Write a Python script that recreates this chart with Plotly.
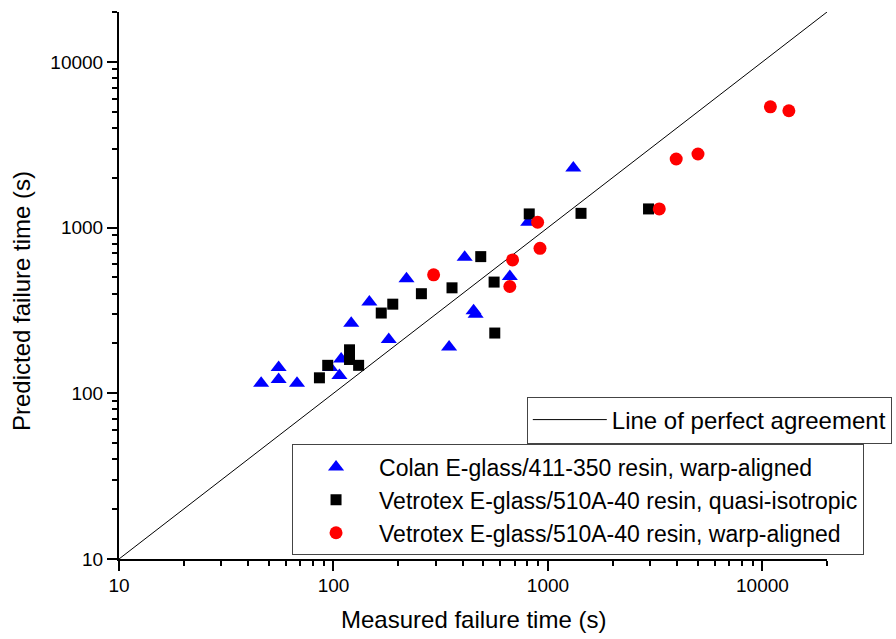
import numpy as np
import plotly.graph_objects as go

# Data
colan_x = [46, 55.5, 55.5, 67.6, 96.5, 106.6, 108.6, 121, 147, 181, 219, 346, 409, 450, 460, 664, 809, 1313]
colan_y = [115, 121, 143, 115, 143, 128, 161, 265, 355, 211, 491, 190, 662, 315, 300, 507, 1077, 2289]

qi_x = [86, 94, 118.8, 118.8, 131, 167, 189, 257, 357, 486, 561, 565, 818, 1426, 2944]
qi_y = [124, 147.5, 183, 160, 147.5, 305, 345, 399, 433, 668, 469, 231, 1209, 1219, 1296]

wa_x = [293, 664, 684, 895, 918, 3304, 3962, 5006, 10890, 13280]
wa_y = [519, 441, 638, 1077, 750, 1296, 2594, 2780, 5358, 5070]

line_x = [10, 20000]
line_y = [10, 20000]

FONT = "Arial, Liberation Sans, sans-serif"

fig = go.Figure()
fig.add_trace(go.Scatter(x=line_x, y=line_y, mode="lines",
                         line=dict(color="black", width=1),
                         name="Line of perfect agreement", legend="legend", showlegend=True))
fig.add_trace(go.Scatter(x=colan_x, y=colan_y, mode="markers",
                         marker=dict(symbol="triangle-up", size=14, color="#0000ff"),
                         name="Colan E-glass/411-350 resin, warp-aligned", legend="legend2", showlegend=True))
fig.add_trace(go.Scatter(x=qi_x, y=qi_y, mode="markers",
                         marker=dict(symbol="square", size=11, color="black"),
                         name="Vetrotex E-glass/510A-40 resin, quasi-isotropic", legend="legend2", showlegend=True))
fig.add_trace(go.Scatter(x=wa_x, y=wa_y, mode="markers",
                         marker=dict(symbol="circle", size=13, color="#ff0000"),
                         name="Vetrotex E-glass/510A-40 resin, warp-aligned", legend="legend2", showlegend=True))

axis_common = dict(
    type="log", showgrid=False, zeroline=False, showline=True, linewidth=2, linecolor="black",
    ticks="outside", ticklen=10, tickwidth=2, tickcolor="black", dtick=1,
    tickformat="d", tickfont=dict(family=FONT, size=19, color="black"),
    minor=dict(ticks="outside", ticklen=5, tickwidth=2, tickcolor="black", dtick="D1", showgrid=False),
    range=[1, np.log10(20000)],
)

fig.update_layout(
    width=896, height=639,
    margin=dict(l=119, r=69, t=12, b=80, autoexpand=False),
    paper_bgcolor="white", plot_bgcolor="white",
    showlegend=True,
    font=dict(family=FONT, color="black"),
    xaxis=dict(axis_common, ticklabelstandoff=-2),
    yaxis=dict(axis_common),
    legend=dict(x=0.576, y=0.2541, xanchor="left", yanchor="middle",
                bordercolor="#444", borderwidth=1, bgcolor="white",
                font=dict(family=FONT, size=24, color="black"), itemwidth=74),
    legend2=dict(x=0.2444, y=0.1079, xanchor="left", yanchor="middle",
                 bordercolor="#444", borderwidth=1, bgcolor="white",
                 font=dict(family=FONT, size=23, color="black"), itemwidth=76),
    annotations=[
        dict(text="Measured failure time (s)", xref="paper", yref="paper",
             x=0.5014, y=-0.1115, xanchor="center", yanchor="middle", showarrow=False,
             font=dict(family=FONT, size=24, color="black")),
        dict(text="Predicted failure time (s)", xref="paper", yref="paper",
             x=-0.137, y=0.4717, xanchor="center", yanchor="middle", showarrow=False,
             textangle=-90, font=dict(family=FONT, size=24, color="black")),
    ],
)

fig.write_html("out.html")
